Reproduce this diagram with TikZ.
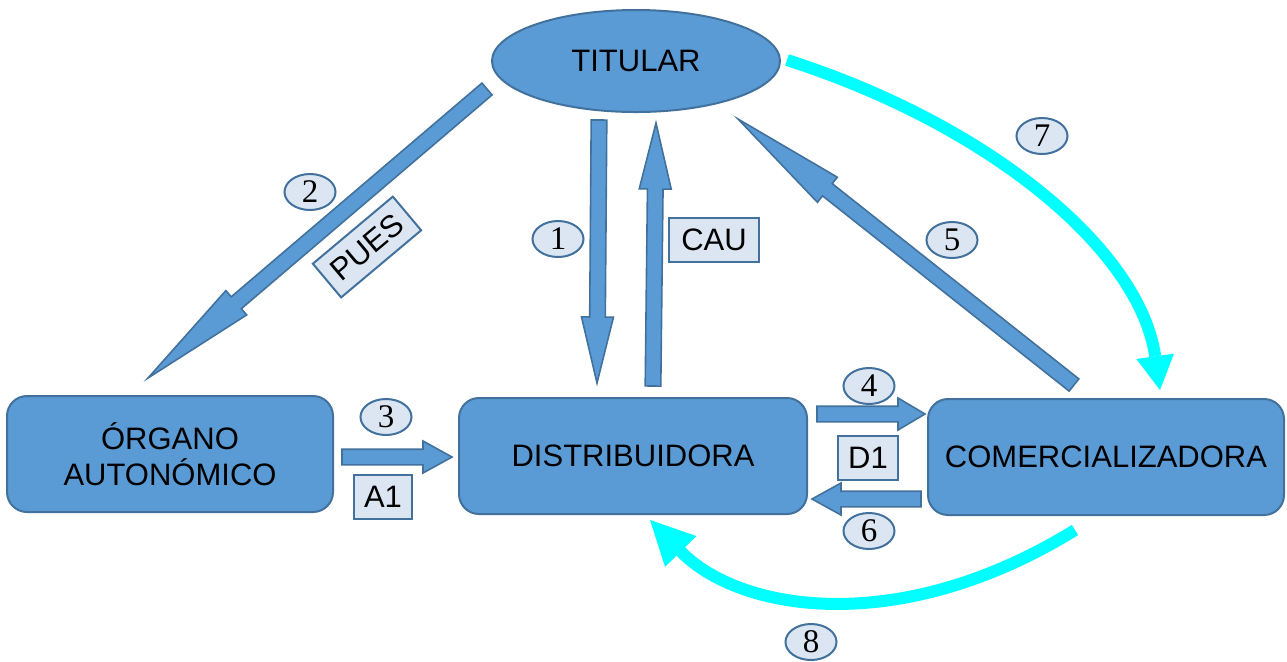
\documentclass[tikz,border=0pt]{standalone}
\usepackage{fontspec}
\setmainfont{Liberation Sans}
\newfontfamily\numfont{Liberation Serif}
\usetikzlibrary{shapes.geometric,arrows.meta,calc}

\definecolor{boxblue}{RGB}{91,155,213}
\definecolor{edgeblue}{RGB}{65,113,156}
\definecolor{tagfill}{RGB}{220,230,242}
\definecolor{flowcyan}{RGB}{0,255,255}

\tikzset{
  actor/.style={draw=edgeblue, fill=boxblue, line width=1pt, rounded corners=10pt,
    minimum width=#1, minimum height=58pt, align=center,
    font=\fontsize{15.5}{18}\selectfont},
  titular/.style={ellipse, draw=edgeblue, fill=boxblue, line width=1pt,
    minimum width=144pt, minimum height=51pt, inner sep=0pt,
    font=\fontsize{15.5}{18}\selectfont},
  num/.style={ellipse, draw=edgeblue, fill=tagfill, line width=1pt,
    minimum width=25.5pt, minimum height=18pt, inner sep=0pt,
    font=\numfont\fontsize{16.5}{16.5}\selectfont},
  tag/.style={draw=edgeblue, fill=tagfill, line width=1pt, minimum height=22pt,
    inner xsep=5pt, inner ysep=0pt, font=\fontsize{15.5}{18}\selectfont},
  blockarr/.style={draw=edgeblue, fill=boxblue, line width=0.8pt},
  flow/.style={draw=flowcyan, line width=6pt}
}

% fat arrow: tail, tip, head length
\newcommand{\blockarrow}[3]{%
  \coordinate (bah) at ($(#2)!#3!(#1)$);
  \draw[blockarr] ($(#1)!3.9pt!90:(#2)$) -- ($(bah)!3.9pt!90:(#2)$)
    -- ($(bah)!8pt!90:(#2)$) -- (#2) -- ($(bah)!8pt!-90:(#2)$)
    -- ($(bah)!3.9pt!-90:(#2)$) -- ($(#1)!3.9pt!-90:(#2)$) -- cycle;}

\begin{document}
\begin{tikzpicture}[x=0.5pt,y=-0.5pt]
\useasboundingbox (0,0) rectangle (1287,661);

\node[titular] at (636,61) (tit) {TITULAR};
\node[actor=163pt] at (170,454) (org) {ÓRGANO\\AUTONÓMICO};
\node[actor=174pt] at (633,456) (dis) {DISTRIBUIDORA};
\node[actor=178pt] at (1106,457) (com) {COMERCIALIZADORA};

% cyan flows
\coordinate (r7a) at (787,60); \coordinate (r7b) at (1160,390);
\draw[flow, -{Triangle[length=17pt,width=19pt,line width=0pt]}]
  (r7a) .. controls (990,125) and (1140,250) .. (r7b);
\coordinate (r8a) at (1075,530); \coordinate (r8b) at (650,520);
\draw[flow, -{Triangle[length=22pt,width=22pt,line width=0pt]}]
  (r8a) .. controls (900,638) and (740,612) .. (r8b);

% block arrows
\coordinate (r1a) at (599,120); \coordinate (r1b) at (597,383);
\blockarrow{r1a}{r1b}{33pt}
\coordinate (rca) at (653,386); \coordinate (rcb) at (656,123);
\blockarrow{rca}{rcb}{33pt}
\coordinate (r2a) at (487,89); \coordinate (r2b) at (148,378);
\blockarrow{r2a}{r2b}{58pt}
\coordinate (r5a) at (1074,385); \coordinate (r5b) at (738,119);
\blockarrow{r5a}{r5b}{57pt}
\coordinate (r3a) at (342,457); \coordinate (r3b) at (452,457);
\blockarrow{r3a}{r3b}{14.5pt}
\coordinate (r4a) at (817,414); \coordinate (r4b) at (925,414);
\blockarrow{r4a}{r4b}{13.5pt}
\coordinate (r6a) at (921,499); \coordinate (r6b) at (812,499);
\blockarrow{r6a}{r6b}{14.5pt}

% labels
\node[tag, rotate=40, minimum width=45pt] at (367,247) (pues) {PUES};
\node[tag, minimum width=45pt] at (714,240) (cau) {CAU};
\node[tag] at (383,497) (a1) {A1};
\node[tag] at (868,458) (d1) {D1};

\node[num] at (558,239) (n1) {1};
\node[num] at (310,192) (n2) {2};
\node[num] at (386,417) (n3) {3};
\node[num] at (869,386) (n4) {4};
\node[num] at (952,240) (n5) {5};
\node[num] at (869,531) (n6) {6};
\node[num] at (1042,136) (n7) {7};
\node[num] at (811,642) (n8) {8};
\end{tikzpicture}
\end{document}
